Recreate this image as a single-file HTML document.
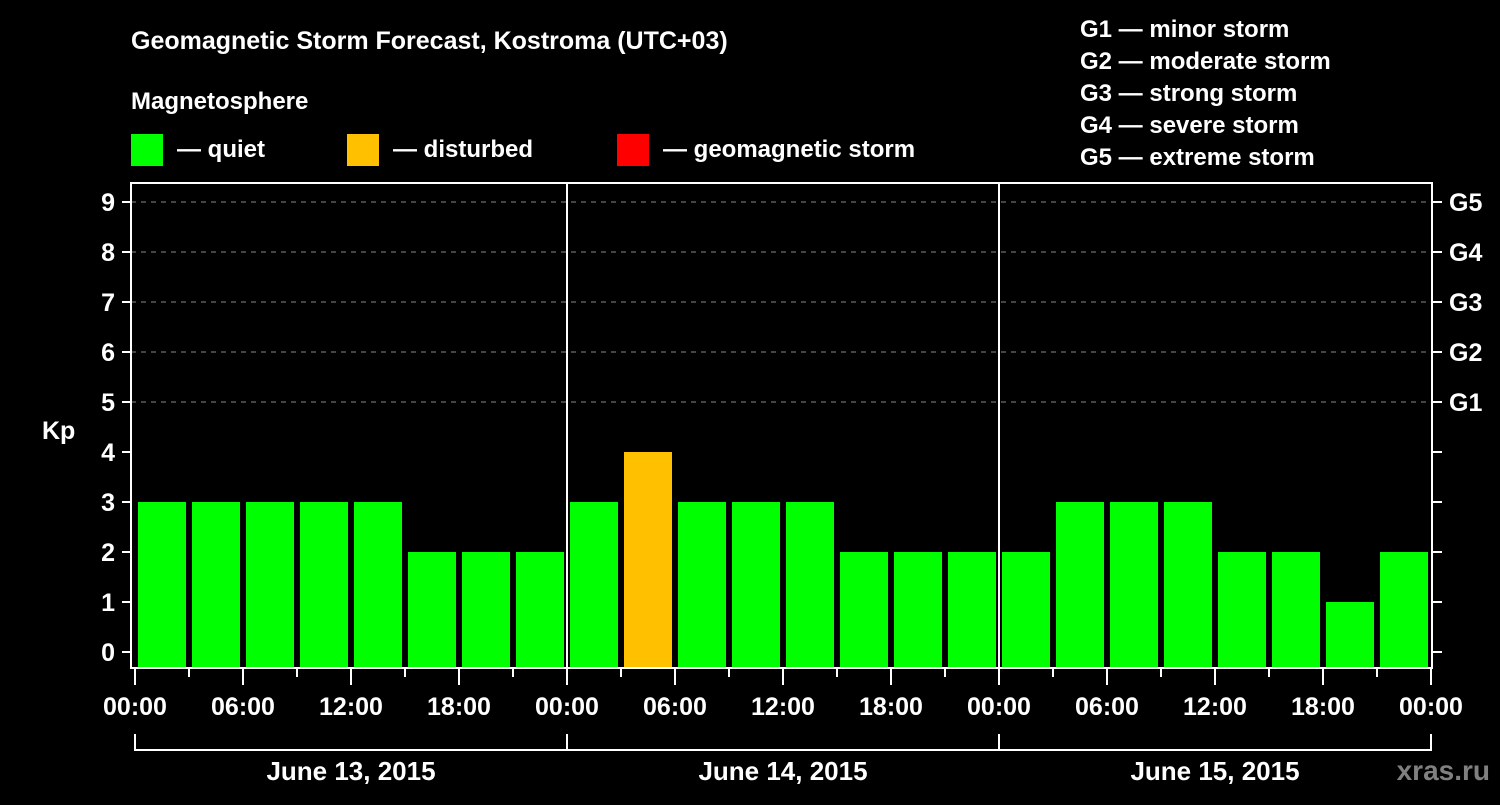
<!DOCTYPE html>
<html><head><meta charset="utf-8"><style>
body{margin:0;background:#000;width:1500px;height:800px;overflow:hidden}
svg text{font-family:"Liberation Sans",Arial,sans-serif;font-weight:bold;fill:#fff}
</style></head><body>
<svg id="chart" width="1500" height="800" xmlns="http://www.w3.org/2000/svg">
<rect width="1500" height="800" fill="#000"/>
<text x="131" y="49" font-size="25">Geomagnetic Storm Forecast, Kostroma (UTC+03)</text>
<text x="131" y="109" font-size="24">Magnetosphere</text>
<g>
<rect x="131" y="134" width="32" height="32" fill="#00ff00"/>
<text x="177" y="157" font-size="24">— quiet</text>
<rect x="347" y="134" width="32" height="32" fill="#ffc000"/>
<text x="393" y="157" font-size="24">— disturbed</text>
<rect x="617" y="134" width="32" height="32" fill="#ff0000"/>
<text x="663" y="157" font-size="24">— geomagnetic storm</text>
</g>
<g font-size="24">
<text x="1080" y="37">G1 — minor storm</text>
<text x="1080" y="69">G2 — moderate storm</text>
<text x="1080" y="101">G3 — strong storm</text>
<text x="1080" y="133">G4 — severe storm</text>
<text x="1080" y="165">G5 — extreme storm</text>
</g>
<text x="42" y="439" font-size="25">Kp</text>
<g id="marks"></g>
<text x="1490" y="780" font-size="28" text-anchor="end" style="fill:#808080">xras.ru</text>
</svg>
<script>
const kpValues = [3,3,3,3,3,2,2,2, 3,4,3,3,3,2,2,2, 2,3,3,3,2,2,1,2];
const dayLabels = ["June 13, 2015","June 14, 2015","June 15, 2015"];
const hourLabels = ["00:00","06:00","12:00","18:00"];
const yTicks = [0,1,2,3,4,5,6,7,8,9];
const gLabels = [[5,"G1"],[6,"G2"],[7,"G3"],[8,"G4"],[9,"G5"]];

const NS="http://www.w3.org/2000/svg";
const g=document.getElementById('marks');
const x0=135, hourW=18, plotL=131, plotR=1432, plotT=183, plotB=668;
const xs=h=>x0+h*hourW;
const ys=k=>652-k*50;
function mk(tag,a){const e=document.createElementNS(NS,tag);for(const k in a)e.setAttribute(k,a[k]);g.appendChild(e);return e;}
// grid
yTicks.forEach(k=>{
  if(k>=5){const l=mk('line',{x1:plotL,x2:plotR,y1:ys(k),y2:ys(k),stroke:'#888','stroke-dasharray':'5,5','stroke-width':1});
  
  }
  const t=mk('line',{x1:122,x2:plotL,y1:ys(k),y2:ys(k),stroke:'#fff','stroke-width':2});
  
  
  const r=mk('line',{x1:plotR,x2:1442,y1:ys(k),y2:ys(k),stroke:'#fff','stroke-width':2});
  
  
  const tx=mk('text',{x:115,y:ys(k)+9,'font-size':25,'text-anchor':'end'});tx.textContent=k;
  
  
});
gLabels.forEach(([k,s])=>{
  const tx=mk('text',{x:1449,y:ys(k)+9,'font-size':25});tx.textContent=s;
  
  
});
// bars
kpValues.forEach((v,i)=>{
  const b=mk('rect',{x:xs(i*3)+3,y:ys(v),width:48,height:plotB-ys(v),fill:v>=5?'#ff0000':v>=4?'#ffc000':'#00ff00'});
  
  
});
// frame
const fr=mk('rect',{x:plotL,y:plotT,width:plotR-plotL,height:plotB-plotT,fill:'none',stroke:'#fff','stroke-width':2});


[1,2].forEach(d=>{const l=mk('line',{x1:xs(d*24),x2:xs(d*24),y1:plotT,y2:plotB,stroke:'#fff','stroke-width':2});

});
// x ticks
for(let h=0;h<=72;h+=3){
  const major=h%6===0;
  const t=mk('line',{x1:xs(h),x2:xs(h),y1:plotB,y2:major?685:677,stroke:'#fff','stroke-width':2});
  
  
  if(major){const tx=mk('text',{x:xs(h),y:715,'font-size':25,'text-anchor':'middle'});tx.textContent=hourLabels[(h%24)/6];
  
  }
}
// day brackets
dayLabels.forEach((d,i)=>{
  const p=mk('path',{d:`M${xs(i*24)},734V750H${xs(i*24+24)}V734`,fill:'none',stroke:'#fff','stroke-width':2});
  
  
  const tx=mk('text',{x:xs(i*24+12),y:780,'font-size':26,'text-anchor':'middle'});tx.textContent=d;
  
  
});
</script>
</body></html>
